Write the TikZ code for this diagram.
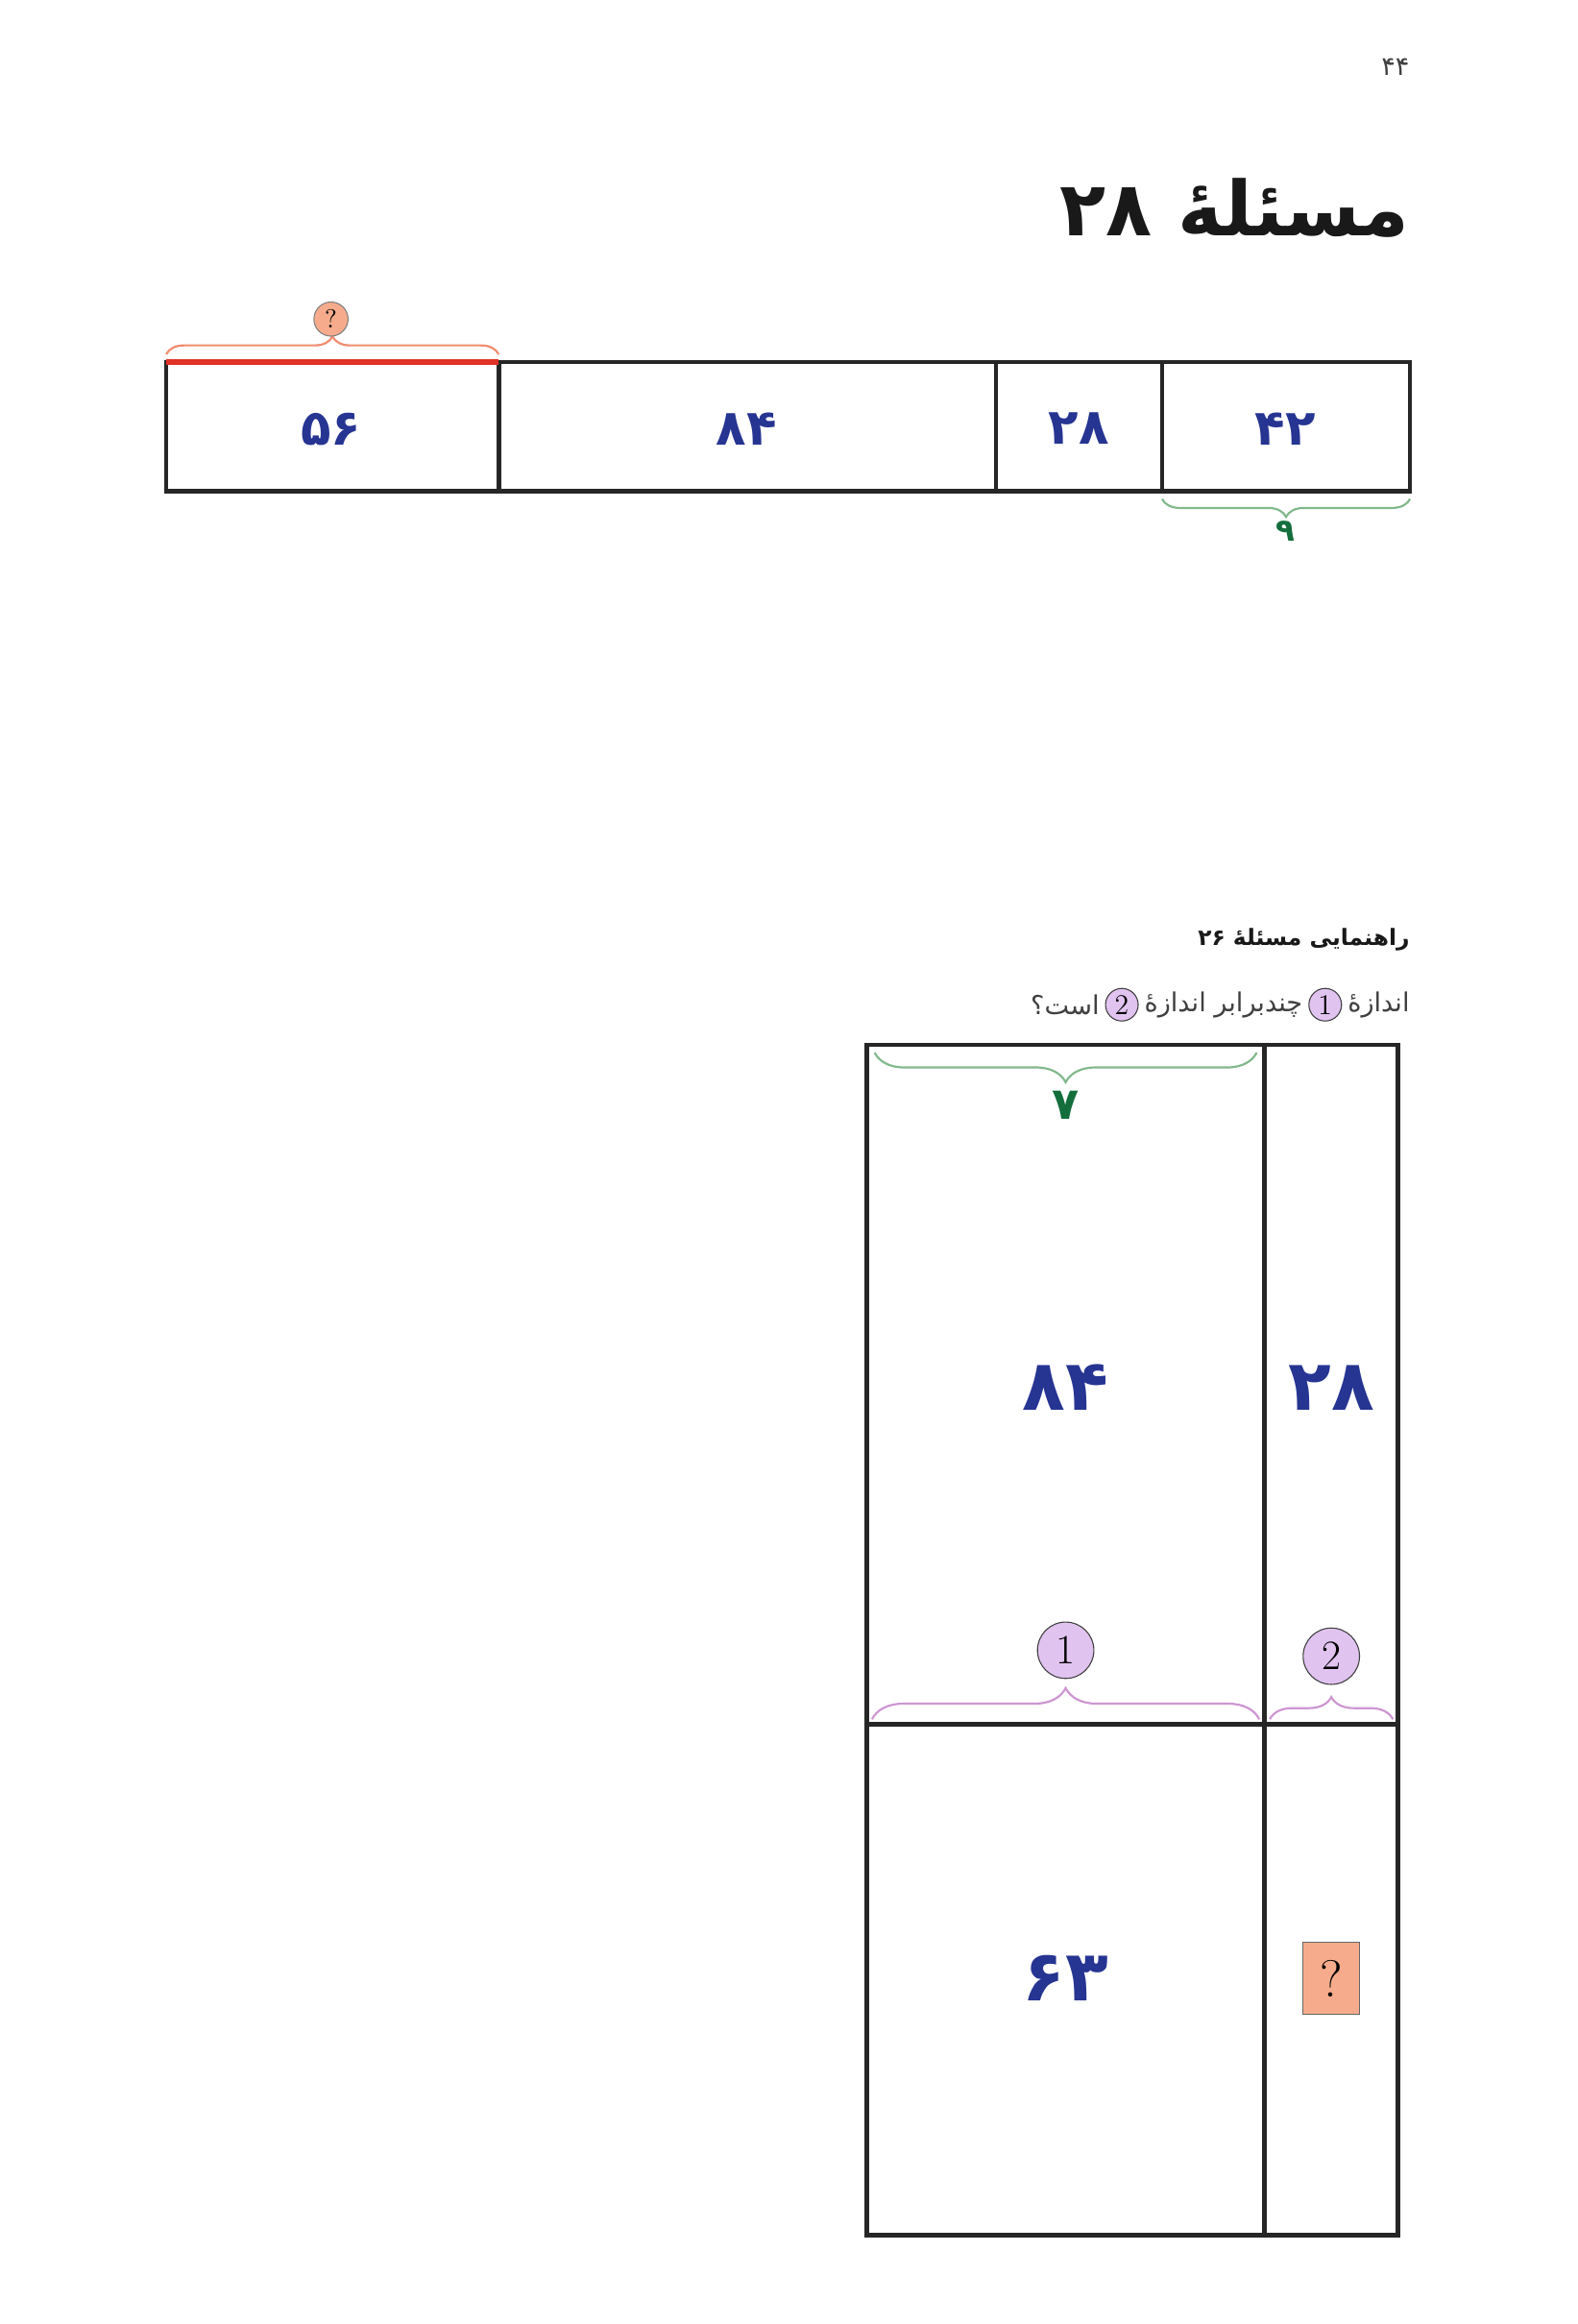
\documentclass[tikz,border=0pt]{standalone}
\usepackage{fontspec}
\newfontfamily\farsi[Script=Arabic]{DejaVu Sans}
\TeXXeTstate=1
\usetikzlibrary{positioning,decorations.pathreplacing}
\definecolor{numblue}{RGB}{38,52,146}
\definecolor{leafgreen}{RGB}{20,110,60}
\definecolor{palegreen}{RGB}{130,185,140}
\definecolor{redline}{RGB}{225,50,40}
\definecolor{peach}{RGB}{240,140,110}
\definecolor{peachfill}{RGB}{246,172,140}
\definecolor{lilac}{RGB}{225,195,240}
\definecolor{lilacline}{RGB}{205,150,210}
\tikzset{
  cell/.style={line width=1.7pt, draw=black!85},
  num/.style={font=\farsi\bfseries\fontsize{19}{22}\selectfont, text=numblue, inner sep=0pt},
  bignum/.style={num, font=\farsi\bfseries\fontsize{27}{32}\selectfont},
  curly/.style={decorate, decoration={brace, amplitude=#1}, line width=0.8pt},
  tag/.style={circle, draw=black!75, fill=lilac, inner sep=0pt, minimum size=#1, font=\fontsize{16}{18}\selectfont},
  txt/.style={font=\farsi\fontsize{10}{12}\selectfont, text=black!75, inner sep=0pt}
}
\begin{document}
\begin{tikzpicture}[x=0.02cm, y=-0.02cm]
    \useasboundingbox (0,0) rectangle (1063,1566);

    % coordinates to be reused
    \coordinate (A) at (112,244);
    \coordinate (B) at (336,244);
    \coordinate (C) at (671,244);
    \coordinate (D) at (783,244);
    \coordinate (E) at (950,244);
    \coordinate (a) at (112,331);
    \coordinate (b) at (336,331);
    \coordinate (c) at (671,331);
    \coordinate (d) at (783,331);
    \coordinate (e) at (950,331);
    \coordinate (P) at (584,704);
    \coordinate (Q) at (852,704);
    \coordinate (R) at (942,704);
    \coordinate (S) at (584,1162);
    \coordinate (T) at (852,1162);
    \coordinate (U) at (942,1162);
    \coordinate (p) at (584,1506);
    \coordinate (q) at (852,1506);
    \coordinate (r) at (942,1506);

    % draw figure
    \begin{scope}
    \draw [cell] (A) rectangle (e);
    \foreach \u/\v in {B/b, C/c, D/d} \draw [cell] (\u) -- (\v);
    \draw [line width=2.4pt, draw=redline] (A) -- (B);
    \draw [curly=0.24cm, draw=peach] ([yshift=3pt]A) -- ([yshift=3pt]B);
    \draw [curly=0.24cm, draw=palegreen] ([yshift=-3pt]e) -- ([yshift=-3pt]d);
    \draw [cell] (P) rectangle (r);
    \draw [cell] (Q) -- (q);
    \draw [cell] (S) -- (U);
    \draw [curly=0.4cm, draw=palegreen] ([shift={(-3pt,-3pt)}]Q) -- ([shift={(3pt,-3pt)}]P);
    \draw [curly=0.42cm, draw=lilacline] ([shift={(2pt,2pt)}]S) -- ([shift={(-2pt,2pt)}]T);
    \draw [curly=0.3cm, draw=lilacline] ([shift={(2pt,2pt)}]T) -- ([shift={(-2pt,2pt)}]U);
    \end{scope}

    % add labels
    \node [txt, anchor=east] (page) at (950,45) {۴۴};
    \node [font=\farsi\bfseries\fontsize{29}{34}\selectfont, text=black!90, inner sep=0pt, anchor=east] (title) at (950,140) {\beginR مسئلهٔ \beginL۲۸\endL\endR};
    \node [num] (n56) at (223,289) {۵۶};
    \node [num] (n84) at (503,289) {۸۴};
    \node [num] (n28) at (727,289) {۲۸};
    \node [num] (n42) at (866,289) {۴۲};
    \node [tag=0.46cm, fill=peachfill, draw=black!50, font=\fontsize{10}{12}\selectfont] (ask) at (223,215) {?};
    \node [num, text=leafgreen, font=\farsi\bfseries\fontsize{12}{14}\selectfont] (nine) at (866,358) {۹};

    \node [txt, font=\farsi\bfseries\fontsize{8.6}{10}\selectfont, text=black!90, anchor=east] (hint) at (950,633) {\beginR راهنمایی مسئلهٔ \beginL۲۶\endL\endR};
    \node [txt, anchor=east] (t1) at (950,677) {\beginR اندازهٔ\endR};
    \node [tag=0.44cm, font=\fontsize{11}{12}\selectfont, left=2pt of t1] (c1) {1};
    \node [txt, left=2pt of c1] (t2) {\beginR چندبرابر اندازهٔ\endR};
    \node [tag=0.44cm, font=\fontsize{11}{12}\selectfont, left=2pt of t2] (c2) {2};
    \node [txt, left=2pt of c2] (t3) {\beginR است؟\endR};

    \node [num, text=leafgreen, font=\farsi\bfseries\fontsize{17}{20}\selectfont] (seven) at (718,745) {۷};
    \node [bignum] (big84) at (718,935) {۸۴};
    \node [bignum] (big28) at (897,935) {۲۸};
    \node [bignum] (big63) at (718,1333) {۶۳};
    \node [tag=0.76cm] (one) at (718,1112) {1};
    \node [tag=0.76cm] (two) at (897,1116) {2};
    \node [draw=black!60, fill=peachfill, minimum width=0.76cm, minimum height=0.96cm, inner sep=0pt, font=\fontsize{20}{22}\selectfont] (qbox) at (897,1333) {?};
\end{tikzpicture}
\end{document}
